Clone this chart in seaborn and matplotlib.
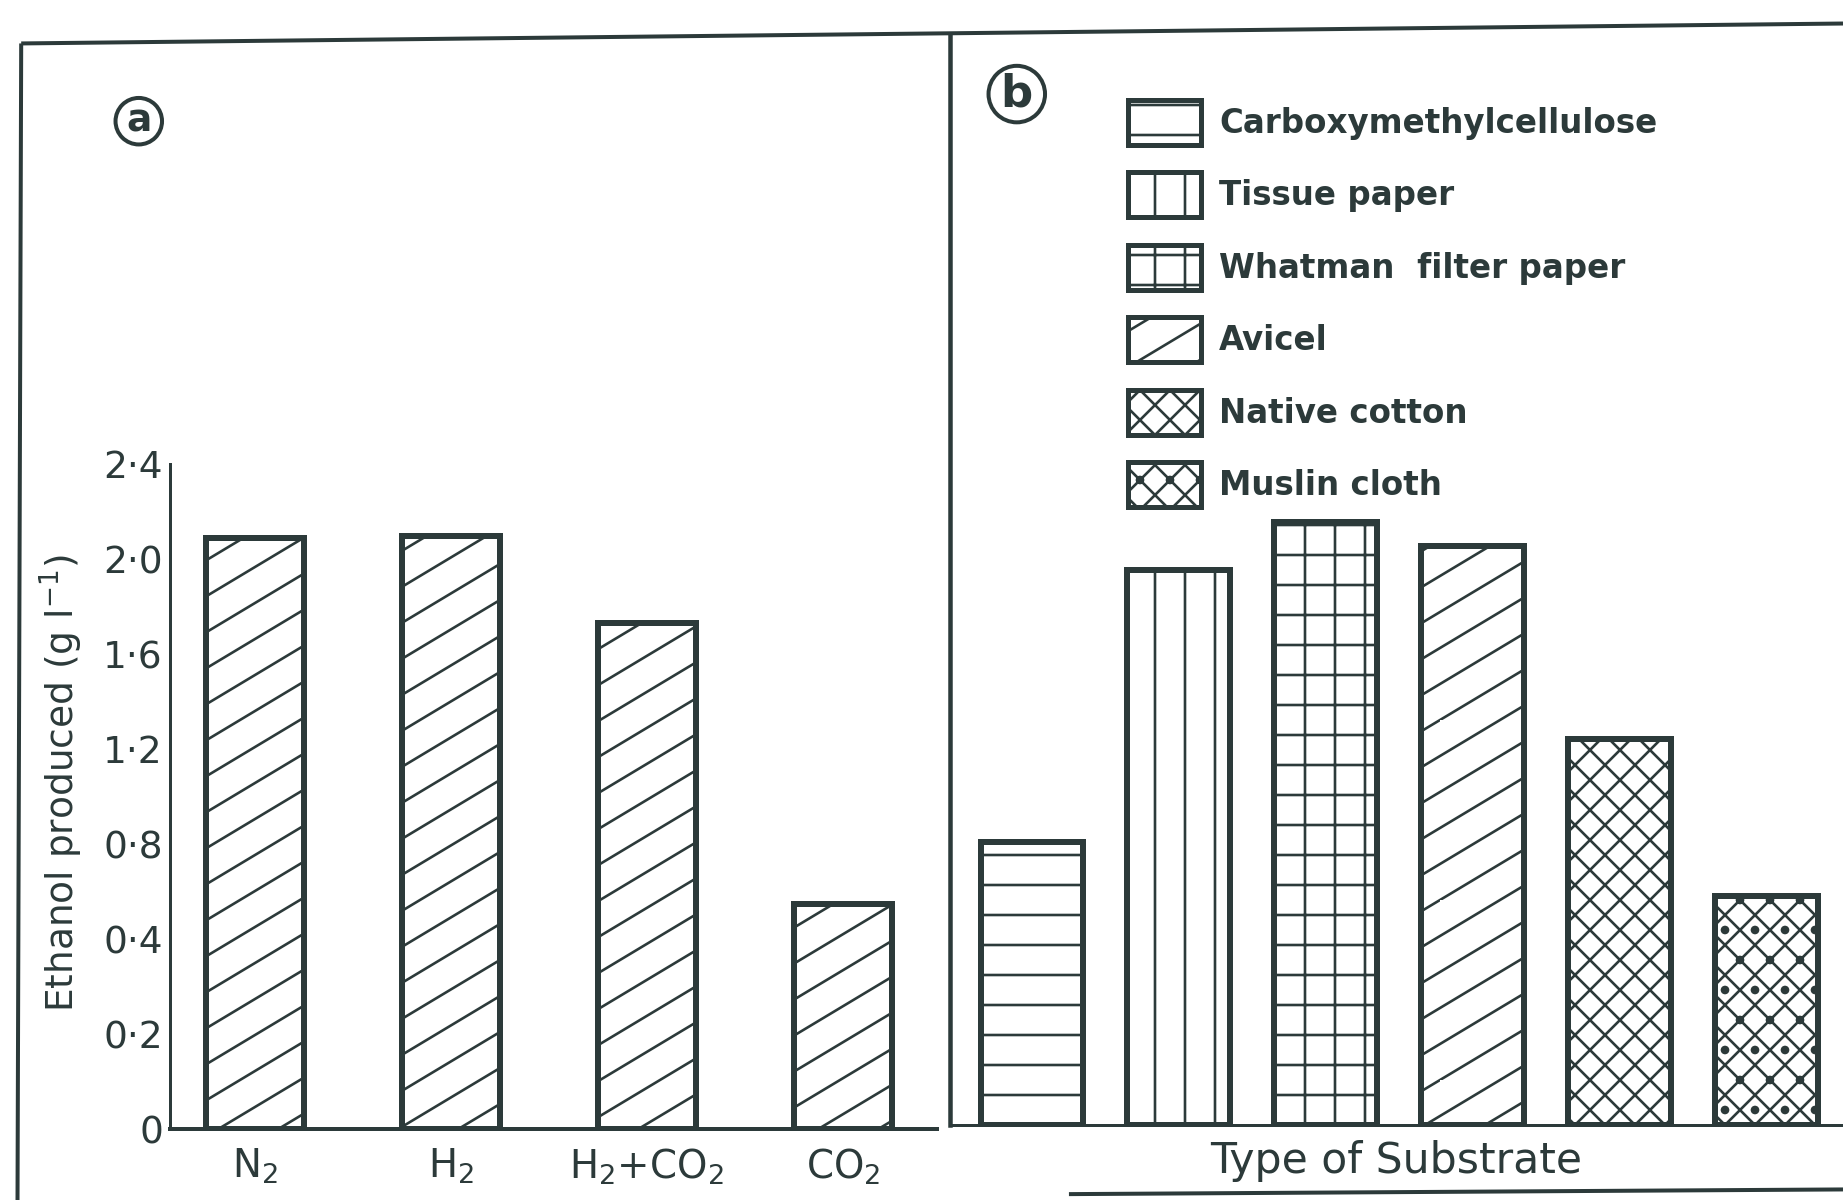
import numpy as np
import matplotlib
matplotlib.use("Agg")
import matplotlib.pyplot as plt
import matplotlib.hatch as mhatch
import seaborn as sns
from matplotlib.patches import Patch
from matplotlib.lines import Line2D
from matplotlib.path import Path

# (a) ethanol produced under different gas phases
gases = ["N$_2$", "H$_2$", "H$_2$+CO$_2$", "CO$_2$"]
ethanol_gas = [2.09, 2.10, 1.73, 0.55]

# (b) ethanol produced on different cellulosic substrates
substrates = ["Carboxymethylcellulose", "Tissue paper", "Whatman  filter paper",
              "Avicel", "Native cotton", "Muslin cloth"]
ethanol_substrate = [0.77, 1.90, 2.10, 2.00, 1.20, 0.55]
substrate_hatches = ["-", "|", "+", "/", "xx", "xx."]

ytick_values = [0, 0.2, 0.4, 0.8, 1.2, 1.6, 2.0, 2.4]
ytick_labels = ["0", "0·2", "0·4", "0·8", "1·2", "1·6", "2·0", "2·4"]

INK = "#2c3a3a"


# '/' hatching drawn at a shallower angle (about 31 degrees) than the default 45
_BaseNorthEast = mhatch.NorthEastHatch


class ShallowNorthEastHatch(mhatch.HatchPatternBase):
    RISE = 0.6

    def __init__(self, hatch, density):
        self.base = _BaseNorthEast(hatch.replace("/", ""), density)
        n = int(round(hatch.count("/") * density * 5 / 6))
        if n:
            k = np.arange(-int(np.ceil(self.RISE * n)), n)
            self.offsets = k / n
        else:
            self.offsets = np.empty(0)
        self.num_vertices = self.base.num_vertices + 2 * len(self.offsets)

    def set_vertices_and_codes(self, vertices, codes):
        nb = self.base.num_vertices
        if nb:
            self.base.set_vertices_and_codes(vertices[:nb], codes[:nb])
        v = vertices[nb:]
        c = codes[nb:]
        v[0::2, 0] = 0.0
        v[0::2, 1] = self.offsets
        v[1::2, 0] = 1.0
        v[1::2, 1] = self.offsets + self.RISE
        c[0::2] = Path.MOVETO
        c[1::2] = Path.LINETO


mhatch._hatch_types = [ShallowNorthEastHatch if t is _BaseNorthEast else t
                       for t in mhatch._hatch_types]

sns.set_style("white")
plt.rcParams.update({
    "font.family": ["DejaVu Sans"],
    "hatch.linewidth": 1.05,
    "hatch.color": INK,
    "text.color": INK,
    "axes.edgecolor": INK,
    "axes.labelcolor": INK,
    "xtick.color": INK,
    "ytick.color": INK,
})


# The printed axis is evenly spaced per tick, with 0-0.4 stretched twice as much
def fwd(v):
    v = np.asarray(v, dtype=float)
    return np.where(v <= 0.4, v * 5.0, 2.0 + (v - 0.4) * 2.5)


def inv(u):
    u = np.asarray(u, dtype=float)
    return np.where(u <= 2.0, u / 5.0, 0.4 + (u - 2.0) / 2.5)


fig = plt.figure(figsize=(1843 / 180, 1200 / 180), dpi=180)
fig.patch.set_facecolor("white")

ax_a = fig.add_axes([0.0925, 0.0588, 0.4158, 0.5543])
ax_b = fig.add_axes([0.5153, 0.0627, 0.4847, 0.9089])

# ---- panel (a)
sns.barplot(x=gases, y=ethanol_gas, ax=ax_a, color="white", saturation=1,
            edgecolor=INK, linewidth=2.4, width=0.5)
for bar in ax_a.patches:
    bar.set_hatch("/")
ax_a.set_yscale("function", functions=(fwd, inv))
ax_a.set_ylim(0, 2.4)
ax_a.set_xlim(-0.43, 3.48)
ax_a.set_yticks(ytick_values)
ax_a.set_yticklabels(ytick_labels)
ax_a.yaxis.set_minor_locator(matplotlib.ticker.NullLocator())
ax_a.tick_params(axis="y", direction="in", length=9, width=1.2, pad=3, labelsize=15)
ax_a.tick_params(axis="x", length=0, pad=7, labelsize=15.5)
ax_a.set_ylabel("Ethanol produced (g l$^{-1}$)", fontsize=15)
ax_a.yaxis.set_label_coords(-0.112, 0.52)
ax_a.set_xlabel("")
for side in ("top", "right"):
    ax_a.spines[side].set_visible(False)
ax_a.spines["left"].set_linewidth(1.2)
ax_a.spines["bottom"].set_linewidth(1.6)
ax_a.set_facecolor("none")

# ---- panel (b)
sns.barplot(x=substrates, y=ethanol_substrate, ax=ax_b, color="white", saturation=1,
            edgecolor=INK, linewidth=2.4, width=0.7)
for bar, h in zip(ax_b.patches, substrate_hatches):
    bar.set_hatch(h)
ax_b.set_yscale("function", functions=(fwd, inv))
ax_b.set_ylim(0, 4.12)
ax_b.set_xlim(-0.56, 5.52)
ax_b.set_yticks(ytick_values[1:])
ax_b.set_yticklabels([])
ax_b.yaxis.set_minor_locator(matplotlib.ticker.NullLocator())
ax_b.tick_params(axis="y", direction="in", length=6, width=1.3)
ax_b.set_xticks([])
ax_b.set_xlabel("Type of Substrate", fontsize=17, labelpad=6)
ax_b.set_ylabel("")
for side in ("top", "right"):
    ax_b.spines[side].set_visible(False)
ax_b.spines["left"].set_linewidth(1.8)
ax_b.spines["bottom"].set_linewidth(1.2)
ax_b.set_facecolor("none")

handles = [Patch(facecolor="white", edgecolor=INK, hatch=h, linewidth=2.0)
           for h in substrate_hatches]
ax_b.legend(handles, substrates, loc="upper left", bbox_to_anchor=(0.612, 0.917),
            bbox_transform=fig.transFigure, frameon=False,
            prop=dict(size=13, weight="bold"), labelcolor=INK,
            handlelength=2.25, handleheight=1.75, labelspacing=0.85,
            handletextpad=0.55, borderpad=0, borderaxespad=0)

# circled panel letters
fig.text(0.0753, 0.899, "a", ha="center", va="center", fontsize=15, fontweight="bold",
         bbox=dict(boxstyle="circle,pad=0.14", fc="none", ec=INK, lw=1.6))
fig.text(0.5517, 0.9216, "b", ha="center", va="center", fontsize=18, fontweight="bold",
         bbox=dict(boxstyle="circle,pad=0.15", fc="none", ec=INK, lw=1.6))

# outer frame of the figure plate
frame_kw = dict(transform=fig.transFigure, color=INK, lw=1.6, solid_capstyle="butt")
fig.add_artist(Line2D([0.0115, 1.0], [0.9638, 0.9804], **frame_kw))
fig.add_artist(Line2D([0.0115, 0.0095], [0.9638, 0.0], **frame_kw))
fig.add_artist(Line2D([0.580, 1.0], [0.0049, 0.0088], **frame_kw))

fig.savefig("out.png", dpi=180, facecolor="white")
